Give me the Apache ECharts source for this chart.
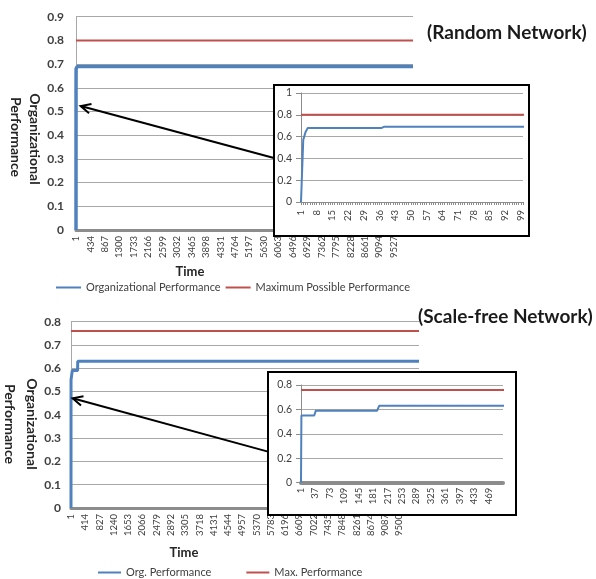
<!DOCTYPE html>
<html><head><meta charset="utf-8">
<script src="https://cdn.jsdelivr.net/npm/echarts@6/dist/echarts.min.js"></script>
<style>html,body{margin:0;padding:0;background:#fff}#c{width:596px;height:579px}</style>
</head><body><div id="c"></div>
<script>
// ---------- Random network ----------
const randomTimeTicks = [1,434,867,1300,1733,2166,2599,3032,3465,3898,4331,4764,5197,5630,6063,6496,6929,7362,7795,8228,8661,9094,9527];
const randomInsetTicks = [1,8,15,22,29,36,43,50,57,64,71,78,85,92,99];
const randomTime    = [1, 2,    3,    4,    37,   38,   10100];
const randomOrgPerf = [0, 0.57, 0.64, 0.68, 0.68, 0.69, 0.69];
const randomMaxTime = [1, 10100];
const randomMaxPerf = [0.8, 0.8];
// ---------- Scale-free network ----------
const scaleTimeTicks = [1,414,827,1240,1653,2066,2479,2892,3305,3718,4131,4544,4957,5370,5783,6196,6609,7022,7435,7848,8261,8674,9087,9500];
const scaleInsetTicks = [1,37,73,109,145,181,217,253,289,325,361,397,433,469];
const scaleTime    = [1, 2,    34,   38,   191,  196,  10070];
const scaleOrgPerf = [0, 0.55, 0.55, 0.59, 0.59, 0.63, 0.63];
const scaleMaxTime = [1, 10070];
const scaleMaxPerf = [0.76, 0.76];
// annotation arrows (data space: [time, performance])
const randomArrow = {from:[5934, 0.304], to:[142, 0.523]};
const scaleArrow  = {from:[5701, 0.242], to:[50, 0.471]};

const FONT = 'Lato';
const BLUE = '#4F81BD', RED = '#C0504D', GRID = '#a8a8a8', TXT = '#404040';
const zip = (a, b) => a.map((v, i) => [v, b[i]]);
const insetTickPositions = (n) => Array.from({length: n}, (_, i) => i + 1);
const plain = (v) => String(v);

function mainX(gi, ticks, max) {
  return {type:'value', gridIndex:gi, min:1, max:max, splitLine:{show:false},
    axisLine:{lineStyle:{color:'#8c8c8c', width:3}}, axisTick:{show:false},
    axisLabel:{customValues:ticks, formatter:plain, rotate:90, fontSize:9.5, margin:6, color:TXT, fontFamily:FONT}};
}
function mainY(gi, max, margin) {
  return {type:'value', gridIndex:gi, min:0, max:max, interval:0.1,
    axisLine:{show:true, lineStyle:{color:GRID, width:1}}, axisTick:{show:false},
    axisLabel:{fontSize:12, fontWeight:'bold', color:TXT, margin:margin, fontFamily:FONT},
    splitLine:{lineStyle:{color:GRID, width:1}}};
}

const option = {
  animation:false,
  backgroundColor:'#fff',
  grid:[
    {left:76, top:16.7, width:337, height:213.3},
    {left:301, top:93, width:222, height:109, z:11},
    {left:71, top:321.7, width:348, height:186.3},
    {left:301, top:385, width:202, height:97.7, z:11}
  ],
  xAxis:[
    mainX(0, randomTimeTicks, 10100),
    {type:'value', gridIndex:1, min:1, max:100, z:11, splitLine:{show:false},
      axisLine:{lineStyle:{color:'#8c8c8c', width:1}},
      axisTick:{show:true, customValues:insetTickPositions(100), length:3, lineStyle:{color:'#8c8c8c'}},
      axisLabel:{customValues:randomInsetTicks, formatter:plain, rotate:90, fontSize:9.5, margin:8, color:TXT, fontFamily:FONT}},
    mainX(2, scaleTimeTicks, 10070),
    {type:'value', gridIndex:3, min:1, max:505, z:11, splitLine:{show:false},
      axisLine:{lineStyle:{color:'#8c8c8c', width:4}}, axisTick:{show:false},
      axisLabel:{customValues:scaleInsetTicks, formatter:plain, rotate:90, fontSize:9.5, margin:5, color:TXT, fontFamily:FONT}}
  ],
  yAxis:[
    mainY(0, 0.9, 12),
    {type:'value', gridIndex:1, min:0, max:1, interval:0.2, z:11,
      axisLine:{show:true, lineStyle:{color:'#8c8c8c'}}, axisTick:{show:true, length:5, lineStyle:{color:'#8c8c8c'}},
      axisLabel:{fontSize:10.5, color:TXT, margin:9, fontFamily:FONT}, splitLine:{lineStyle:{color:GRID}}},
    mainY(2, 0.8, 10),
    {type:'value', gridIndex:3, min:0, max:0.8, interval:0.2, z:11,
      axisLine:{show:true, lineStyle:{color:'#8c8c8c'}}, axisTick:{show:true, length:5, lineStyle:{color:'#8c8c8c'}},
      axisLabel:{fontSize:10.5, color:TXT, margin:9, fontFamily:FONT}, splitLine:{lineStyle:{color:GRID}}}
  ],
  legend:[
    {data:['Organizational Performance','Maximum Possible Performance'], left:50, top:277,
      itemWidth:25, itemHeight:12, itemGap:4, itemStyle:{opacity:0}, textStyle:{fontSize:11, color:TXT, fontFamily:FONT}},
    {data:['Org. Performance','Max. Performance'], left:92, top:562,
      itemWidth:23, itemHeight:12, itemGap:34, itemStyle:{opacity:0}, textStyle:{fontSize:11, color:TXT, fontFamily:FONT}}
  ],
  series:[
    {type:'line', name:'Organizational Performance', xAxisIndex:0, yAxisIndex:0, data:zip(randomTime, randomOrgPerf),
      symbol:'none', lineStyle:{color:BLUE, width:3.5}, itemStyle:{color:BLUE}, z:3},
    {type:'line', name:'Maximum Possible Performance', xAxisIndex:0, yAxisIndex:0, data:zip(randomMaxTime, randomMaxPerf),
      symbol:'none', lineStyle:{color:RED, width:2}, itemStyle:{color:RED}, z:2},
    {type:'line', name:'Organizational Performance', xAxisIndex:1, yAxisIndex:1, data:zip(randomTime, randomOrgPerf),
      symbol:'none', lineStyle:{color:BLUE, width:2}, itemStyle:{color:BLUE}, z:13},
    {type:'line', name:'Maximum Possible Performance', xAxisIndex:1, yAxisIndex:1, data:zip(randomMaxTime, randomMaxPerf),
      symbol:'none', lineStyle:{color:RED, width:2}, itemStyle:{color:RED}, z:12},
    {type:'line', name:'Org. Performance', xAxisIndex:2, yAxisIndex:2, data:zip(scaleTime, scaleOrgPerf),
      symbol:'none', lineStyle:{color:BLUE, width:3}, itemStyle:{color:BLUE}, z:3},
    {type:'line', name:'Max. Performance', xAxisIndex:2, yAxisIndex:2, data:zip(scaleMaxTime, scaleMaxPerf),
      symbol:'none', lineStyle:{color:RED, width:2}, itemStyle:{color:RED}, z:2},
    {type:'line', name:'Org. Performance', xAxisIndex:3, yAxisIndex:3, data:zip(scaleTime, scaleOrgPerf),
      symbol:'none', lineStyle:{color:BLUE, width:2}, itemStyle:{color:BLUE}, z:13},
    {type:'line', name:'Max. Performance', xAxisIndex:3, yAxisIndex:3, data:zip(scaleMaxTime, scaleMaxPerf),
      symbol:'none', lineStyle:{color:RED, width:2}, itemStyle:{color:RED}, z:12}
  ],
  graphic:{elements:[
    {type:'rect', z:10, shape:{x:274, y:85, width:255, height:151}, style:{fill:'#fff', stroke:'#000', lineWidth:2}},
    {type:'rect', z:10, shape:{x:268, y:372, width:248, height:143}, style:{fill:'#fff', stroke:'#000', lineWidth:2}},
    {type:'text', x:427, y:33, style:{text:'(Random Network)', font:'bold 19px '+FONT, fill:'#1a1a1a', verticalAlign:'middle'}},
    {type:'text', x:418, y:317, style:{text:'(Scale-free Network)', font:'bold 19px '+FONT, fill:'#1a1a1a', verticalAlign:'middle'}},
    {type:'text', x:35, y:139, rotation:-Math.PI/2, style:{text:'Organizational', font:'bold 14px '+FONT, fill:'#262626', align:'center', verticalAlign:'middle'}},
    {type:'text', x:16, y:137, rotation:-Math.PI/2, style:{text:'Performance', font:'bold 14px '+FONT, fill:'#262626', align:'center', verticalAlign:'middle'}},
    {type:'text', x:32, y:424, rotation:-Math.PI/2, style:{text:'Organizational', font:'bold 14px '+FONT, fill:'#262626', align:'center', verticalAlign:'middle'}},
    {type:'text', x:10, y:424, rotation:-Math.PI/2, style:{text:'Performance', font:'bold 14px '+FONT, fill:'#262626', align:'center', verticalAlign:'middle'}},
    {type:'text', x:190, y:272, style:{text:'Time', font:'bold 13px '+FONT, fill:'#262626', align:'center', verticalAlign:'middle'}},
    {type:'text', x:184, y:553, style:{text:'Time', font:'bold 13px '+FONT, fill:'#262626', align:'center', verticalAlign:'middle'}}
  ]}
};

const chart = echarts.init(document.getElementById('c'), null, {renderer:'canvas'});
chart.setOption(option);

function arrowEls(gi, arrow) {
  const p0 = chart.convertToPixel({gridIndex:gi}, arrow.from);
  const p1 = chart.convertToPixel({gridIndex:gi}, arrow.to);
  const ang = Math.atan2(p0[1]-p1[1], p0[0]-p1[0]);
  const L = 11, spread = 0.45;
  const a1 = [p1[0]+L*Math.cos(ang+spread), p1[1]+L*Math.sin(ang+spread)];
  const a2 = [p1[0]+L*Math.cos(ang-spread), p1[1]+L*Math.sin(ang-spread)];
  return [
    {type:'line', z:20, shape:{x1:p0[0], y1:p0[1], x2:p1[0], y2:p1[1]}, style:{stroke:'#000', lineWidth:2}},
    {type:'polyline', z:20, shape:{points:[a1, p1, a2]}, style:{stroke:'#000', lineWidth:2, fill:null}}
  ];
}
option.graphic.elements.push(...arrowEls(0, randomArrow), ...arrowEls(2, scaleArrow));
chart.setOption(option, true);
</script></body></html>
